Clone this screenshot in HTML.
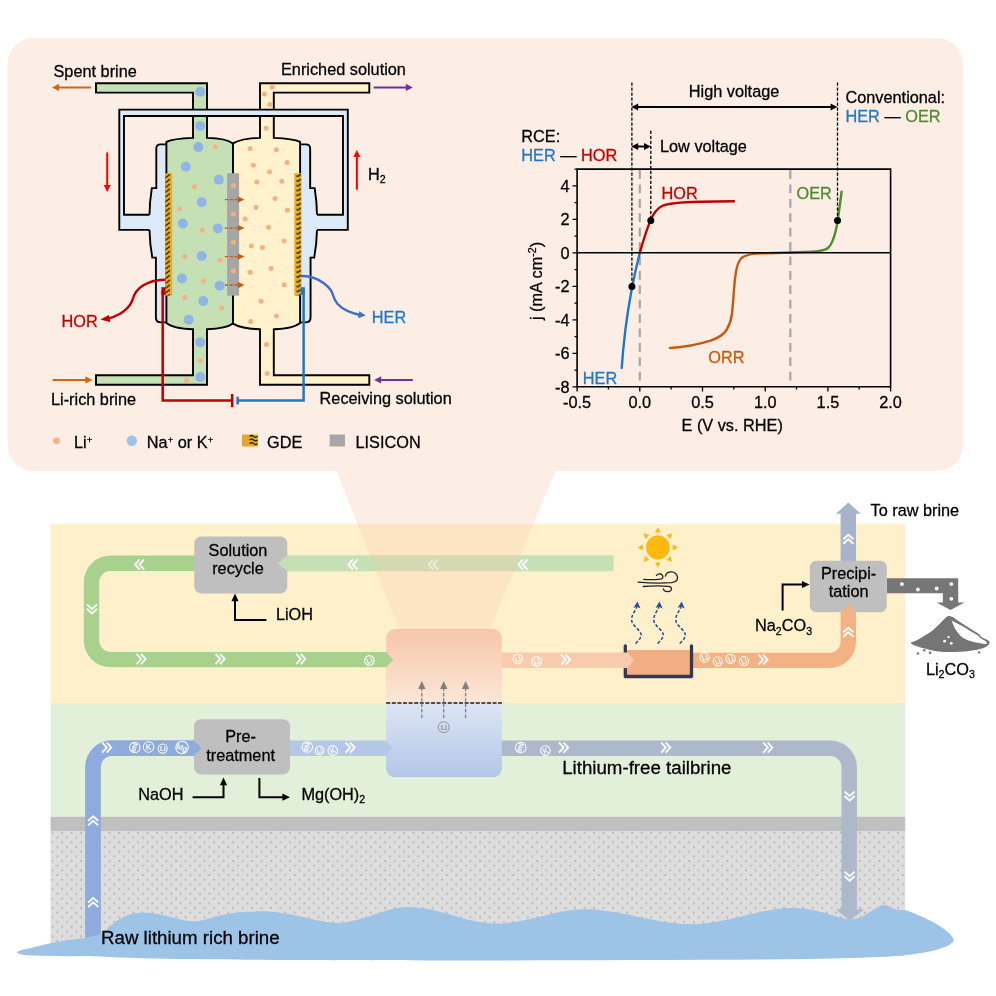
<!DOCTYPE html>
<html lang="en"><head><meta charset="utf-8"><title>Lithium extraction schematic</title>
<style>
html,body{margin:0;padding:0;background:#fff;}
body{width:996px;height:996px;overflow:hidden;}
svg{display:block;will-change:transform;}
text{font-family:"Liberation Sans",Arial,Helvetica,sans-serif;font-size:16.3px;fill:#000;stroke:#000;stroke-width:.28px;}
.lg{font-size:18.7px;}
.sub{font-size:10.6px;}
.sup{font-size:9.6px;}
.red{fill:#C00000;stroke:#C00000;} .blu{fill:#1F77C8;stroke:#1F77C8;} .grn{fill:#4E8A2E;stroke:#4E8A2E;} .orr{fill:#C55A11;stroke:#C55A11;}
.k{stroke:#000;stroke-width:1.9;fill:none;stroke-linejoin:miter;}
</style></head><body>
<svg width="996" height="996" viewBox="0 0 996 996">
<defs>
<pattern id="hatch" patternUnits="userSpaceOnUse" width="6.9" height="4.8" patternTransform="translate(165.2,173.2)">
<rect width="6.9" height="4.8" fill="#EBAF24"/>
<path d="M0.8,4.3 L4.4,1.5" stroke="#1a1a1a" stroke-width="1.35" stroke-linecap="round"/>
</pattern>
<pattern id="hatch2" patternUnits="userSpaceOnUse" width="6.9" height="4.8" patternTransform="translate(294.4,173.2)">
<rect width="6.9" height="4.8" fill="#EBAF24"/>
<path d="M2.5,2.8 L3.3,3.3 L6.2,1.3" stroke="#1a1a1a" stroke-width="1.25" stroke-linecap="round" stroke-linejoin="round" fill="none"/>
</pattern>
<pattern id="dots" patternUnits="userSpaceOnUse" width="9.5" height="9.4" patternTransform="translate(50.6,831)">
<rect width="9.5" height="9.4" fill="#DDDDDD"/>
<circle cx="2" cy="1.8" r="1" fill="#B4B4B4"/><circle cx="6.75" cy="6.5" r="1" fill="#B4B4B4"/>
</pattern>
<linearGradient id="gTop" x1="0" y1="0" x2="0" y2="1"><stop offset="0" stop-color="#F7C6A8"/><stop offset="1" stop-color="#FBE6D8"/></linearGradient>
<linearGradient id="gBot" x1="0" y1="0" x2="0" y2="1"><stop offset="0" stop-color="#DCE5F4"/><stop offset="1" stop-color="#B3C6E8"/></linearGradient>
<clipPath id="cellclip"><rect x="386.2" y="629" width="115.6" height="148.3" rx="9" ry="9"/></clipPath>
</defs>

<g id="bottom-bg">
<rect x="50.6" y="523.8" width="854.6" height="179.2" fill="#FFF0CC"/>
<rect x="50.6" y="703" width="854.6" height="114" fill="#E2EFD9"/>
<rect x="50.6" y="831" width="854.6" height="125" fill="url(#dots)"/>
<rect x="50.6" y="816.8" width="854.6" height="14.2" fill="#BFBFBF"/>
</g>
<g id="pipes" fill="none" stroke-width="15.4" stroke-linejoin="round">
<path d="M93,948 V767.2 A19,19 0 0 1 112,748.2 H194.5" stroke="#8FAADC" stroke-width="15.7"/>
<path d="M196,563.3 H110.5 A19,19 0 0 0 91.5,582.3 V640.6 A19,19 0 0 0 110.5,659.6 H386.5" stroke="#A9D18E"/>
<path d="M613.6,563.2 H286" stroke="#C5E0B4" stroke-width="16"/>
<path d="M289,748.2 H386.5" stroke="#B4C7E7"/>
<path d="M501,748.2 H830.2 A19,19 0 0 1 849.2,767.2 V910" stroke="#ADB9CA"/>
<path d="M501,660.2 H627" stroke="#F8CBAD"/>
<path d="M692,660.4 H829.3 A19,19 0 0 0 848.3,641.4 V611" stroke="#F4B183"/>
</g>
<path d="M835.6,909.3 H864.4 L850,920.4 Z" fill="#ADB9CA"/>
<path d="M840.6,562 V513.8 H835.8 L848.3,502.4 L860.8,513.8 H856 V562 Z" fill="#A6B3CB"/>
<path id="brine" fill="#9DC3E6" d="M17,952.2 C19,950.6 24,949.4 30,948.2 C37,946.6 44,944.6 51.2,943 C62,940.8 76,939.2 86.3,937.5 C92,936.6 96.6,935.6 100.4,934.1 C105.6,931.6 108.6,927.8 112.4,924.5 C116,921.2 120,918.4 124.5,916.5 C129.6,914 135,912.9 140.6,912.8 C147.6,912.7 154,913.2 160.6,914.5 C167.6,915.8 174,918.2 180.7,919.5 C185,920.6 189,921.3 193.2,921.4 C203,921.2 211,917.6 219.9,915.5 C226,914 231,913 237.7,912.5 C247,911.7 258,911 267.5,911.6 C277,912.2 287,913.8 296,915.5 C311,918.5 325,923.4 339.4,922.9 C363,922.1 384,907.4 407.8,907.1 C437,906.7 465,923 494,923.5 C513,923.8 530,919 547,915 C560,912 573,909 586.3,909.3 C622,910 656,924.4 691.3,924.2 C726,924 758,908.4 792,908 C806,907.8 818,911 830,914.5 C838,916.9 846,919.6 853.3,919 C862,918.3 868,913 874,909.5 C878,907 881,905 884,905 C888,905 892,908.6 896,909.6 C899,910.4 902,910 905,910 C925,917 950,929 954,940 C950,950 915,955.5 880,957 C840,958.8 800,959.2 760,959.6 C600,960.6 400,960.6 296,960 C250,959.7 215,959.5 178,959 C145,958.5 115,957.4 89,956 C62,956.4 38,956 30,955.6 C23,955.2 16.6,953.8 17,952.2 Z"/>
<polygon points="336.4,471 555.6,471 489.3,630 399.6,630" fill="#F8CBAD" fill-opacity="0.32"/>
<g clip-path="url(#cellclip)">
<rect x="386" y="629" width="116" height="74" fill="url(#gTop)"/>
<rect x="386" y="703" width="116" height="74.4" fill="url(#gBot)"/>
</g>
<line x1="386.2" y1="703" x2="501.8" y2="703" stroke="#1a1a1a" stroke-width="1.6" stroke-dasharray="4,1.6"/>
<line x1="421.8" y1="718" x2="421.8" y2="688" stroke="#7F7F7F" stroke-width="1.3" stroke-dasharray="3.6,1.8"/>
<path d="M421.8,681 l3.7,8 h-7.4 z" fill="#7F7F7F"/>
<line x1="443.7" y1="718" x2="443.7" y2="688" stroke="#7F7F7F" stroke-width="1.3" stroke-dasharray="3.6,1.8"/>
<path d="M443.7,681 l3.7,8 h-7.4 z" fill="#7F7F7F"/>
<line x1="465.6" y1="718" x2="465.6" y2="688" stroke="#7F7F7F" stroke-width="1.3" stroke-dasharray="3.6,1.8"/>
<path d="M465.6,681 l3.7,8 h-7.4 z" fill="#7F7F7F"/>
<g transform="translate(443.7,727.2)"><circle r="5.5" fill="none" stroke="#8C8C8C" stroke-width="0.90"/><text transform="rotate(0)" text-anchor="middle" y="2.8" style="font-size:7.8px;fill:#8C8C8C;stroke:#8C8C8C;stroke-width:.2px">Li</text></g>
<path d="M385.8,651.55 L393.2,659.6 L385.8,667.65 Z" fill="#A9D18E"/>
<path d="M385.8,740.4 L392.6,748.2 L385.8,756 Z" fill="#B4C7E7"/>
<path d="M626.5,652.4 L634,660.2 L626.5,668 Z" fill="#F8CBAD"/>
<rect x="194.3" y="536.4" width="93" height="57" rx="7" ry="7" fill="#BFBFBF"/>
<rect x="194" y="719.2" width="96" height="55.2" rx="7" ry="7" fill="#BFBFBF"/>
<rect x="809.8" y="560.8" width="77" height="51.4" rx="6.5" ry="6.5" fill="#BFBFBF"/>
<path d="M287.6,555.2 L277.6,563.2 L287.6,571.2 Z" fill="#C5E0B4"/>
<path d="M193.8,740.4 L201.6,748.2 L193.8,756 Z" fill="#8FAADC"/>
<path d="M840.5,611.9 L848.3,604.4 L856.1,611.9 Z" fill="#F4B183"/>
<rect x="626.8" y="650" width="63.4" height="25.6" fill="#F2AE82"/>
<path d="M625.3,646 V676.5 H691.5 V646" fill="none" stroke="#2A3B59" stroke-width="3.3" stroke-linejoin="round" stroke-linecap="round"/>
<path d="M620,652.4 H627.4 L634,660.2 L627.4,668 H620 Z" fill="#F8CBAD"/>
<g transform="translate(139.3,564.6) rotate(180) scale(1.00)" fill="none" stroke="#fff" stroke-width="1.85" opacity="1"><path d="M-4.8,-5.1 L-0.2,0 L-4.8,5.1 M-0.3,-5.1 L4.3,0 L-0.3,5.1"/></g>
<g transform="translate(92.0,609.2) rotate(90) scale(1.00)" fill="none" stroke="#fff" stroke-width="1.85" opacity="1"><path d="M-4.8,-5.1 L-0.2,0 L-4.8,5.1 M-0.3,-5.1 L4.3,0 L-0.3,5.1"/></g>
<g transform="translate(141.3,659.0) rotate(0) scale(1.00)" fill="none" stroke="#fff" stroke-width="1.85" opacity="1"><path d="M-4.8,-5.1 L-0.2,0 L-4.8,5.1 M-0.3,-5.1 L4.3,0 L-0.3,5.1"/></g>
<g transform="translate(220.4,659.0) rotate(0) scale(1.00)" fill="none" stroke="#fff" stroke-width="1.85" opacity="1"><path d="M-4.8,-5.1 L-0.2,0 L-4.8,5.1 M-0.3,-5.1 L4.3,0 L-0.3,5.1"/></g>
<g transform="translate(301.0,659.0) rotate(0) scale(1.00)" fill="none" stroke="#fff" stroke-width="1.85" opacity="1"><path d="M-4.8,-5.1 L-0.2,0 L-4.8,5.1 M-0.3,-5.1 L4.3,0 L-0.3,5.1"/></g>
<g transform="translate(352.6,564.6) rotate(180) scale(1.00)" fill="none" stroke="#fff" stroke-width="1.85" opacity="1"><path d="M-4.8,-5.1 L-0.2,0 L-4.8,5.1 M-0.3,-5.1 L4.3,0 L-0.3,5.1"/></g>
<g transform="translate(433.0,564.6) rotate(180) scale(1.00)" fill="none" stroke="#fff" stroke-width="1.85" opacity="0.55"><path d="M-4.8,-5.1 L-0.2,0 L-4.8,5.1 M-0.3,-5.1 L4.3,0 L-0.3,5.1"/></g>
<g transform="translate(522.6,564.6) rotate(180) scale(1.00)" fill="none" stroke="#fff" stroke-width="1.85" opacity="1"><path d="M-4.8,-5.1 L-0.2,0 L-4.8,5.1 M-0.3,-5.1 L4.3,0 L-0.3,5.1"/></g>
<g transform="translate(107.0,747.6) rotate(0) scale(1.00)" fill="none" stroke="#fff" stroke-width="1.85" opacity="1"><path d="M-4.8,-5.1 L-0.2,0 L-4.8,5.1 M-0.3,-5.1 L4.3,0 L-0.3,5.1"/></g>
<g transform="translate(350.4,747.6) rotate(0) scale(1.00)" fill="none" stroke="#fff" stroke-width="1.85" opacity="1"><path d="M-4.8,-5.1 L-0.2,0 L-4.8,5.1 M-0.3,-5.1 L4.3,0 L-0.3,5.1"/></g>
<g transform="translate(93.2,820.6) rotate(270) scale(1.00)" fill="none" stroke="#fff" stroke-width="1.85" opacity="1"><path d="M-4.8,-5.1 L-0.2,0 L-4.8,5.1 M-0.3,-5.1 L4.3,0 L-0.3,5.1"/></g>
<g transform="translate(93.2,902.2) rotate(270) scale(1.00)" fill="none" stroke="#fff" stroke-width="1.85" opacity="1"><path d="M-4.8,-5.1 L-0.2,0 L-4.8,5.1 M-0.3,-5.1 L4.3,0 L-0.3,5.1"/></g>
<g transform="translate(565.9,659.6) rotate(0) scale(1.00)" fill="none" stroke="#fff" stroke-width="1.85" opacity="1"><path d="M-4.8,-5.1 L-0.2,0 L-4.8,5.1 M-0.3,-5.1 L4.3,0 L-0.3,5.1"/></g>
<g transform="translate(763.3,659.6) rotate(0) scale(1.00)" fill="none" stroke="#fff" stroke-width="1.85" opacity="1"><path d="M-4.8,-5.1 L-0.2,0 L-4.8,5.1 M-0.3,-5.1 L4.3,0 L-0.3,5.1"/></g>
<g transform="translate(848.3,632.0) rotate(270) scale(1.00)" fill="none" stroke="#fff" stroke-width="1.85" opacity="1"><path d="M-4.8,-5.1 L-0.2,0 L-4.8,5.1 M-0.3,-5.1 L4.3,0 L-0.3,5.1"/></g>
<g transform="translate(848.3,539.0) rotate(270) scale(1.00)" fill="none" stroke="#fff" stroke-width="1.85" opacity="1"><path d="M-4.8,-5.1 L-0.2,0 L-4.8,5.1 M-0.3,-5.1 L4.3,0 L-0.3,5.1"/></g>
<g transform="translate(563.8,747.6) rotate(0) scale(1.00)" fill="none" stroke="#fff" stroke-width="1.85" opacity="1"><path d="M-4.8,-5.1 L-0.2,0 L-4.8,5.1 M-0.3,-5.1 L4.3,0 L-0.3,5.1"/></g>
<g transform="translate(666.0,747.6) rotate(0) scale(1.00)" fill="none" stroke="#fff" stroke-width="1.85" opacity="1"><path d="M-4.8,-5.1 L-0.2,0 L-4.8,5.1 M-0.3,-5.1 L4.3,0 L-0.3,5.1"/></g>
<g transform="translate(768.0,747.6) rotate(0) scale(1.00)" fill="none" stroke="#fff" stroke-width="1.85" opacity="1"><path d="M-4.8,-5.1 L-0.2,0 L-4.8,5.1 M-0.3,-5.1 L4.3,0 L-0.3,5.1"/></g>
<g transform="translate(849.6,796.3) rotate(90) scale(1.00)" fill="none" stroke="#fff" stroke-width="1.85" opacity="1"><path d="M-4.8,-5.1 L-0.2,0 L-4.8,5.1 M-0.3,-5.1 L4.3,0 L-0.3,5.1"/></g>
<g transform="translate(849.6,876.4) rotate(90) scale(1.00)" fill="none" stroke="#fff" stroke-width="1.85" opacity="1"><path d="M-4.8,-5.1 L-0.2,0 L-4.8,5.1 M-0.3,-5.1 L4.3,0 L-0.3,5.1"/></g>
<g transform="translate(134.8,747.5)"><circle r="5.3" fill="none" stroke="#fff" stroke-width="1.05"/><text transform="rotate(100)" text-anchor="middle" y="2.5" style="font-size:7.0px;fill:#fff;stroke:#fff;stroke-width:.2px">Na</text></g>
<g transform="translate(148.6,747.0)"><circle r="5.3" fill="none" stroke="#fff" stroke-width="1.05"/><text transform="rotate(0)" text-anchor="middle" y="3.0" style="font-size:8.4px;fill:#fff;stroke:#fff;stroke-width:.2px">K</text></g>
<g transform="translate(162.7,748.6)"><circle r="4.6" fill="none" stroke="#fff" stroke-width="1.05"/><text transform="rotate(0)" text-anchor="middle" y="2.6" style="font-size:7.1px;fill:#fff;stroke:#fff;stroke-width:.2px">Li</text></g>
<g transform="translate(182.0,747.5)"><circle r="6.2" fill="none" stroke="#fff" stroke-width="1.05"/><text transform="rotate(20)" text-anchor="middle" y="2.7" style="font-size:7.6px;fill:#fff;stroke:#fff;stroke-width:.2px">Mg</text></g>
<g transform="translate(369.4,660.4)"><circle r="4.8" fill="none" stroke="#fff" stroke-width="1.05"/><text transform="rotate(-20)" text-anchor="middle" y="2.7" style="font-size:7.4px;fill:#fff;stroke:#fff;stroke-width:.2px">Li</text></g>
<g transform="translate(307.3,747.0)"><circle r="5.3" fill="none" stroke="#fff" stroke-width="1.05"/><text transform="rotate(100)" text-anchor="middle" y="2.5" style="font-size:7.0px;fill:#fff;stroke:#fff;stroke-width:.2px">Na</text></g>
<g transform="translate(319.6,750.6)"><circle r="4.4" fill="none" stroke="#fff" stroke-width="1.05"/><text transform="rotate(-20)" text-anchor="middle" y="2.5" style="font-size:6.8px;fill:#fff;stroke:#fff;stroke-width:.2px">Li</text></g>
<g transform="translate(332.7,750.4)"><circle r="4.8" fill="none" stroke="#fff" stroke-width="1.05"/><text transform="rotate(-20)" text-anchor="middle" y="2.7" style="font-size:7.4px;fill:#fff;stroke:#fff;stroke-width:.2px">K</text></g>
<g transform="translate(517.7,659.0)"><circle r="4.8" fill="none" stroke="#fff" stroke-width="1.05"/><text transform="rotate(-20)" text-anchor="middle" y="2.7" style="font-size:7.4px;fill:#fff;stroke:#fff;stroke-width:.2px">Li</text></g>
<g transform="translate(536.6,661.6)"><circle r="4.8" fill="none" stroke="#fff" stroke-width="1.05"/><text transform="rotate(-20)" text-anchor="middle" y="2.7" style="font-size:7.4px;fill:#fff;stroke:#fff;stroke-width:.2px">Li</text></g>
<g transform="translate(704.5,657.4)"><circle r="4.6" fill="none" stroke="#fff" stroke-width="1.05"/><text transform="rotate(-20)" text-anchor="middle" y="2.6" style="font-size:7.1px;fill:#fff;stroke:#fff;stroke-width:.2px">Li</text></g>
<g transform="translate(717.8,661.4)"><circle r="4.6" fill="none" stroke="#fff" stroke-width="1.05"/><text transform="rotate(-20)" text-anchor="middle" y="2.6" style="font-size:7.1px;fill:#fff;stroke:#fff;stroke-width:.2px">Li</text></g>
<g transform="translate(730.6,658.8)"><circle r="4.6" fill="none" stroke="#fff" stroke-width="1.05"/><text transform="rotate(-20)" text-anchor="middle" y="2.6" style="font-size:7.1px;fill:#fff;stroke:#fff;stroke-width:.2px">Li</text></g>
<g transform="translate(744.0,661.0)"><circle r="4.6" fill="none" stroke="#fff" stroke-width="1.05"/><text transform="rotate(-20)" text-anchor="middle" y="2.6" style="font-size:7.1px;fill:#fff;stroke:#fff;stroke-width:.2px">Li</text></g>
<g transform="translate(520.7,747.5)"><circle r="5.3" fill="none" stroke="#fff" stroke-width="1.05"/><text transform="rotate(100)" text-anchor="middle" y="2.5" style="font-size:7.0px;fill:#fff;stroke:#fff;stroke-width:.2px">Na</text></g>
<g transform="translate(545.4,750.6)"><circle r="4.8" fill="none" stroke="#fff" stroke-width="1.05"/><text transform="rotate(-20)" text-anchor="middle" y="2.7" style="font-size:7.4px;fill:#fff;stroke:#fff;stroke-width:.2px">K</text></g>
<g fill="none" stroke="#000" stroke-width="2">
<path d="M266.4,620 H235 V600"/>
<path d="M192.6,797.2 H223.5 V784"/>
<path d="M259.4,778 V797.2 H284"/>
<path d="M782.6,610.4 V584.5 H803"/>
</g>
<path d="M235,593.6 l3.6,7.6 h-7.2 z"/>
<path d="M223.5,777.6 l3.6,7.6 h-7.2 z"/>
<path d="M290,797.2 l-7.6,3.6 v-7.2 z"/>
<path d="M809.6,584.5 l-7.6,3.6 v-7.2 z"/>
<text x="238" y="555.6" text-anchor="middle">Solution</text>
<text x="238" y="574.4" text-anchor="middle">recycle</text>
<text x="275.9" y="619.8">LiOH</text>
<text x="240.6" y="742.2" text-anchor="middle">Pre-</text>
<text x="240.6" y="761" text-anchor="middle">treatment</text>
<text x="138.2" y="799.8">NaOH</text>
<text x="301.4" y="799.8">Mg(OH)<tspan class="sub" dy="3.6">2</tspan><tspan dy="-3.6">&#8203;</tspan></text>
<text x="848.6" y="578.6" text-anchor="middle">Precipi-</text>
<text x="848.6" y="597.2" text-anchor="middle">tation</text>
<text x="755" y="631.2">Na<tspan class="sub" dy="3.6">2</tspan><tspan dy="-3.6">&#8203;</tspan>CO<tspan class="sub" dy="3.6">3</tspan><tspan dy="-3.6">&#8203;</tspan></text>
<text x="925.9" y="674.8">Li<tspan class="sub" dy="3.6">2</tspan><tspan dy="-3.6">&#8203;</tspan>CO<tspan class="sub" dy="3.6">3</tspan><tspan dy="-3.6">&#8203;</tspan></text>
<text x="870.5" y="516.2">To raw brine</text>
<text x="562.2" y="774.4" class="lg">Lithium-free tailbrine</text>
<text x="101" y="944.3" class="lg">Raw lithium rich brine</text>
<g fill="#FDB90F">
<circle cx="657.9" cy="547.5" r="11.9"/>
<polygon points="678.1,547.5 672.8,550.4 672.8,544.6"/>
<polygon points="672.2,561.8 666.4,560.1 670.5,556.0"/>
<polygon points="657.9,567.7 655.0,562.4 660.8,562.4"/>
<polygon points="643.6,561.8 645.3,556.0 649.4,560.1"/>
<polygon points="637.7,547.5 643.0,544.6 643.0,550.4"/>
<polygon points="643.6,533.2 649.4,534.9 645.3,539.0"/>
<polygon points="657.9,527.3 660.8,532.6 655.0,532.6"/>
<polygon points="672.2,533.2 670.5,539.0 666.4,534.9"/>
</g>
<g fill="none" stroke="#222" stroke-width="1.3" stroke-linecap="round">
<path d="M643.7,579.4 C650,579.8 655,579.6 658.6,579.4 C661.5,579.2 663,578.2 662.9,576.6 C662.8,574.8 661,573.6 659.3,573.8 C657.8,574 656.8,574.6 656.4,575.5"/>
<path d="M638.1,582.2 C650,583.2 662,583.4 671.4,582.7 C675.5,582.2 677.6,580.4 677.5,577.6 C677.4,574.2 674.6,571.8 671.3,571.9 C668,572 665.8,573.8 665.4,576.2"/>
<path d="M643.3,586.5 C652,585.8 661,585.8 668.2,586.3 C670.4,586.5 671.6,587.4 671.5,588.8 C671.4,590.6 669.6,591.7 667.4,591.6 C665.2,591.5 663.6,590.4 663.4,589"/>
</g>
<g fill="none" stroke="#2B4C9B" stroke-width="1.5" stroke-dasharray="3.2,1.9">
<path transform="translate(0,0)" d="M635.6,643.7 C639,640 641.4,637.6 641.1,634.6 C640.6,630 631.8,625.4 631.6,620.1 C631.4,615 635.4,610.6 636.9,607"/>
<path transform="translate(22.1,0)" d="M635.6,643.7 C639,640 641.4,637.6 641.1,634.6 C640.6,630 631.8,625.4 631.6,620.1 C631.4,615 635.4,610.6 636.9,607"/>
<path transform="translate(44.2,0)" d="M635.6,643.7 C639,640 641.4,637.6 641.1,634.6 C640.6,630 631.8,625.4 631.6,620.1 C631.4,615 635.4,610.6 636.9,607"/>
</g>
<path transform="translate(0,0)" d="M637.4,601.6 L640.6,608.6 L636.8,606.8 L633.4,608 Z" fill="#2B4C9B"/>
<path transform="translate(22.1,0)" d="M637.4,601.6 L640.6,608.6 L636.8,606.8 L633.4,608 Z" fill="#2B4C9B"/>
<path transform="translate(44.2,0)" d="M637.4,601.6 L640.6,608.6 L636.8,606.8 L633.4,608 Z" fill="#2B4C9B"/>
<path d="M887,578.2 H958.2 V602.5 H964.4 L950.5,610 L936.6,602.5 H942.9 V593.3 H887 Z" fill="#767676"/>
<circle cx="901.9" cy="584.1" r="1.9" fill="#fff"/>
<circle cx="917.9" cy="589.5" r="1.9" fill="#fff"/>
<circle cx="936.7" cy="588.5" r="1.9" fill="#fff"/>
<circle cx="951.3" cy="584.1" r="1.9" fill="#fff"/>
<circle cx="951.3" cy="598.8" r="1.9" fill="#fff"/>
<path d="M911.2,642.3 C915,641.4 918,639.8 920.8,638 C924.4,635.8 927,634.2 930.1,632.2 C933,630.2 935.6,627.6 938.2,625.2 C940.8,622.8 943,620.2 945.2,618.2 C946.8,616.6 947.8,616.1 949.3,616.1 C951,616.1 952.8,617.1 954.5,618.2 C957.6,620.3 960.6,622.5 963.9,624.6 C967,626.6 970,628.6 973.2,630.5 C975.2,631.7 977.4,632.8 979,634 C980.4,635 980.4,636.2 981.3,636.9 C983,638.2 985.6,638.7 987.2,639.8 C988.8,640.9 990,642 989.5,643.3 C989,645 987,646.4 984.8,647.4 C981.2,649 977.2,649.8 973.2,650.3 C967.4,651.2 961.6,651.9 955.7,652 C949.8,652.2 944,652 938.2,651.4 C934.2,651 930.4,650.1 926.6,649.1 C922.6,648.1 918.6,647 914.9,645.6 C913.2,645 910.2,643.6 911.2,642.3 Z" fill="#757575"/>
<path d="M951.6,620.6 C955.6,622.8 960,624.8 963.9,627 C967,628.9 970.2,630.9 973.2,632.8 C975,633.9 977,634.6 978.4,635.7 C979.6,636.7 979.8,637.6 980.7,638.3 C982.2,639.4 984,640 985.4,641 C986.6,641.9 987.2,643 986.6,643.9 C984,644 981.4,643.4 979,642.9 C975.4,642.2 971.8,641.6 968.5,640.4 C965.6,639.2 962.6,637.8 960.4,635.7 C958,633.4 956,630.6 954.5,627.6 C953.4,625.4 952.4,623 951.6,620.6 Z" fill="#fff"/>
<circle cx="948.5" cy="637.1" r="1.2" fill="#fff"/>
<circle cx="944.6" cy="641.2" r="1.4" fill="#fff"/>
<circle cx="951.3" cy="643.3" r="1.4" fill="#fff"/>
<circle cx="917.9" cy="653.5" r="1.2" fill="#757575"/>
<circle cx="924.3" cy="650.3" r="1.3" fill="#757575"/>
<circle cx="930.1" cy="652.8" r="1.4" fill="#757575"/>
<circle cx="979" cy="652.4" r="1.2" fill="#757575"/>
<rect x="7.5" y="38" width="955.5" height="433" rx="26" ry="26" fill="#FDEEE5"/>
<g id="device">
<g>
<path d="M170,144.4 H160.6 Q156.3,144.4 156.3,148.6 V188.1 H151.8 C150.4,197 149.6,206 149.5,214.8 V229.9 C149.7,239 150.6,248.6 152.3,257.6 H155.9 V317.4 Q155.9,322.4 160.9,322.4 H170 Z" fill="#DCE9F6"/>
<path d="M170,144.4 H160.6 Q156.3,144.4 156.3,148.6 V188.1 H151.8 C150.4,197 149.6,206 149.5,214.8" class="k"/><path d="M149.5,229.9 C149.7,239 150.6,248.6 152.3,257.6 H155.9 V317.4 Q155.9,322.4 160.9,322.4 H170" class="k"/>
</g>
<g transform="translate(233,0) scale(-1.006,1) translate(-233,0)">
<path d="M170,144.4 H160.6 Q156.3,144.4 156.3,148.6 V188.1 H151.8 C150.4,197 149.6,206 149.5,214.8 V229.9 C149.7,239 150.6,248.6 152.3,257.6 H155.9 V317.4 Q155.9,322.4 160.9,322.4 H170 Z" fill="#DCE9F6"/>
<path d="M170,144.4 H160.6 Q156.3,144.4 156.3,148.6 V188.1 H151.8 C150.4,197 149.6,206 149.5,214.8" class="k"/><path d="M149.5,229.9 C149.7,239 150.6,248.6 152.3,257.6 H155.9 V317.4 Q155.9,322.4 160.9,322.4 H170" class="k"/>
</g>
<path d="M96,83.3 H207 V137.9 C217,138.2 228,139.6 233,143.4 V323.6 C228,327.4 217,328.9 207,329.3 V384.7 H96 V375.3 H193 V329.3 C183,328.9 171,327 166.4,323 V141.8 C171,139.6 183,138.3 193,137.9 V92.6 H96 Z" fill="#C5E0B4" stroke="#000" stroke-width="1.9" stroke-linejoin="miter"/>
<path d="M369.3,83.3 H260 V137.9 C250,138.2 239,139.6 233,143.4 V323.6 C239,327.4 250,328.9 260,329.3 V384.7 H369.3 V375.3 H273.8 V329.3 C283,328.9 295.4,327 300.1,323 V141.8 C295.4,139.6 283,138.3 273.8,137.9 V92.6 H369.3 Z" fill="#FFF2CC" stroke="#000" stroke-width="1.9" stroke-linejoin="miter"/>
<rect x="165.2" y="173.2" width="6.9" height="122.4" fill="url(#hatch)"/>
<rect x="294.4" y="173.2" width="6.9" height="122.4" fill="url(#hatch2)"/>
<rect x="227.1" y="173.2" width="12" height="122.4" fill="#A6A6A6"/>
<g fill="#8FB5E6"><circle cx="200.2" cy="91.8" r="5"/><circle cx="200.2" cy="125.9" r="5"/><circle cx="198.3" cy="147.1" r="5"/><circle cx="185.8" cy="166.7" r="5"/><circle cx="218.8" cy="179.8" r="5"/><circle cx="201.7" cy="202.2" r="5"/><circle cx="182.8" cy="223.5" r="5"/><circle cx="217.9" cy="228.5" r="5"/><circle cx="201.7" cy="256" r="5"/><circle cx="181.9" cy="278.5" r="5"/><circle cx="219.6" cy="285.7" r="5"/><circle cx="203.2" cy="301" r="5"/><circle cx="188.6" cy="319.7" r="5"/><circle cx="200.2" cy="342.2" r="5"/><circle cx="200.2" cy="377" r="5"/></g>
<g fill="#F4B183"><circle cx="215.4" cy="146.7" r="2.5"/><circle cx="194.5" cy="186.7" r="2.5"/><circle cx="179.4" cy="208.7" r="2.5"/><circle cx="202.4" cy="230.2" r="2.5"/><circle cx="184.8" cy="256.6" r="2.5"/><circle cx="220.1" cy="260.2" r="2.5"/><circle cx="203.3" cy="281" r="2.5"/><circle cx="184.8" cy="297.2" r="2.5"/><circle cx="221.7" cy="308.1" r="2.5"/><circle cx="200.2" cy="360.7" r="2.5"/><circle cx="186.5" cy="380.5" r="2.5"/><circle cx="272.2" cy="87.3" r="2.5"/><circle cx="264.4" cy="94.1" r="2.5"/><circle cx="269.8" cy="104.4" r="2.5"/><circle cx="266.1" cy="128.3" r="2.5"/><circle cx="250.2" cy="148.4" r="2.5"/><circle cx="276.3" cy="149.8" r="2.5"/><circle cx="287.1" cy="162.4" r="2.5"/><circle cx="253.4" cy="165.3" r="2.5"/><circle cx="269.6" cy="171.8" r="2.5"/><circle cx="256.8" cy="182.1" r="2.5"/><circle cx="281.8" cy="181.2" r="2.5"/><circle cx="275.1" cy="198.6" r="2.5"/><circle cx="256" cy="207.3" r="2.5"/><circle cx="287.4" cy="210.2" r="2.5"/><circle cx="245.1" cy="218.9" r="2.5"/><circle cx="268.6" cy="227.3" r="2.5"/><circle cx="284.2" cy="240.9" r="2.5"/><circle cx="251.4" cy="246.1" r="2.5"/><circle cx="262.5" cy="247.4" r="2.5"/><circle cx="271.2" cy="268.4" r="2.5"/><circle cx="250.2" cy="272.2" r="2.5"/><circle cx="284.2" cy="284.8" r="2.5"/><circle cx="261" cy="301.3" r="2.5"/><circle cx="276.3" cy="316" r="2.5"/><circle cx="250.7" cy="321.4" r="2.5"/><circle cx="266.5" cy="344.6" r="2.5"/><circle cx="267.2" cy="373.6" r="2.5"/><circle cx="233.3" cy="185.5" r="2.5"/><circle cx="233.3" cy="214" r="2.5"/><circle cx="233.3" cy="242.3" r="2.5"/><circle cx="233.3" cy="270.8" r="2.5"/></g>
<line x1="224.8" y1="199.6" x2="238.6" y2="199.6" stroke="#C55A11" stroke-width="1.3" stroke-dasharray="3.2,1.6"/>
<path d="M244.4,199.6 l-6.6,3.2 v-6.4 z" fill="#C55A11"/>
<line x1="224.8" y1="228.1" x2="238.6" y2="228.1" stroke="#C55A11" stroke-width="1.3" stroke-dasharray="3.2,1.6"/>
<path d="M244.4,228.1 l-6.6,3.2 v-6.4 z" fill="#C55A11"/>
<line x1="224.8" y1="256.6" x2="238.6" y2="256.6" stroke="#C55A11" stroke-width="1.3" stroke-dasharray="3.2,1.6"/>
<path d="M244.4,256.6 l-6.6,3.2 v-6.4 z" fill="#C55A11"/>
<line x1="224.8" y1="285" x2="238.6" y2="285" stroke="#C55A11" stroke-width="1.3" stroke-dasharray="3.2,1.6"/>
<path d="M244.4,285 l-6.6,3.2 v-6.4 z" fill="#C55A11"/>
<path d="M150.4,229.9 H119.3 V109.6 H347.8 V229.9 H316.2 V214.8 H343 V116 H124 V214.8 H150.4 Z" fill="#DCE9F6"/>
<path d="M149.5,229.9 H119.3 V109.6 H347.8 V229.9 H317 M149.5,214.8 H124 V116 H343 V214.8 H317" class="k"/>
<rect x="161.4" y="287.2" width="4.1" height="7.8" fill="#C00000"/>
<path d="M162.7,291 V400.6 H232.2 M232.2,394 V407.2" fill="none" stroke="#C00000" stroke-width="2.5"/>
<rect x="300.8" y="287.2" width="4.1" height="7.8" fill="#1F77C8"/>
<path d="M303.6,291 V400.6 H237.6 M237.6,396.8 V404.4" fill="none" stroke="#1F77C8" stroke-width="2.5"/>
<path d="M165.4,279.8 C159,279.8 154,280.6 149,282.6 C143,285 138.6,288.2 136,292 C133.4,295.8 133,299 131.6,302 C129.6,306.4 126,310 120.6,313.4 C116,316.2 111,317.8 106.4,318.8" fill="none" stroke="#C00000" stroke-width="2.4"/>
<path d="M100.4,319.6 l8.4,-4.6 l1.6,7.2 z" fill="#C00000"/>
<path d="M301.1,275.9 C308,275.8 314,277.4 319,280.2 C326,284.2 331,288.6 332.6,294 C333.8,298.2 335,301 337.6,304 C341,307.8 344.6,309.8 348.4,311.4 C352.4,313 356,314.2 360,314.9" fill="none" stroke="#3F6FC6" stroke-width="2.5"/>
<path d="M365.8,315.6 l-7.8,2.6 l1.3,-7 z" fill="#3F6FC6"/>
<line x1="91" y1="87.4" x2="57.6" y2="87.4" stroke="#D06515" stroke-width="2"/>
<path d="M52,87.4 l7,3.6 v-7.2 z" fill="#D06515"/>
<line x1="373.6" y1="87.4" x2="407.2" y2="87.4" stroke="#7030A0" stroke-width="2"/>
<path d="M412.8,87.4 l-7,3.6 v-7.2 z" fill="#7030A0"/>
<line x1="52.7" y1="379.9" x2="86.80000000000001" y2="379.9" stroke="#D06515" stroke-width="2"/>
<path d="M92.4,379.9 l-7,3.6 v-7.2 z" fill="#D06515"/>
<line x1="412.8" y1="379.9" x2="379.8" y2="379.9" stroke="#7030A0" stroke-width="2"/>
<path d="M374.2,379.9 l7,3.6 v-7.2 z" fill="#7030A0"/>
<line x1="107.2" y1="152.5" x2="107.2" y2="186.4" stroke="#FF0000" stroke-width="2"/>
<path d="M107.2,192 l3.5,-7 h-7.0 z" fill="#FF0000"/>
<line x1="356.9" y1="189.7" x2="356.9" y2="155.5" stroke="#FF0000" stroke-width="2"/>
<path d="M356.9,149.9 l3.5,7 h-7.0 z" fill="#FF0000"/>
</g>
<text x="53.5" y="76.5">Spent brine</text>
<text x="281" y="75.2">Enriched solution</text>
<text x="368" y="179.8">H<tspan class="sub" dy="3.6">2</tspan><tspan dy="-3.6">&#8203;</tspan></text>
<text x="61.5" y="326.6" class="red">HOR</text>
<text x="371.8" y="322.8" class="blu">HER</text>
<text x="51" y="405">Li-rich brine</text>
<text x="319.6" y="403.6">Receiving solution</text>
<circle cx="56.5" cy="440.8" r="3.4" fill="#F4B183"/>
<text x="74" y="448.3">Li<tspan class="sup" dy="-5.4">+</tspan></text>
<circle cx="131.8" cy="440.8" r="5.2" fill="#9DC3E6"/>
<text x="146.8" y="448.3">Na<tspan class="sup" dy="-5.4">+</tspan><tspan dy="5.4"> or K</tspan><tspan class="sup" dy="-5.4">+</tspan></text>
<rect x="242" y="434.5" width="16" height="12" fill="#E0A92B"/>
<path d="M249.6,436.4 q2,-1.8 4,0 t4,0 M249.6,440 q2,-1.8 4,0 t4,0 M249.6,443.6 q2,-1.8 4,0 t4,0" fill="none" stroke="#1a1a1a" stroke-width="1.2"/>
<text x="267" y="448.3">GDE</text>
<rect x="329.6" y="434.5" width="15.4" height="12" fill="#A6A6A6"/>
<text x="355.5" y="448.3">LISICON</text>
<g id="chart">
<line x1="639.8" y1="170.1" x2="639.8" y2="386.8" stroke="#A6A6A6" stroke-width="2.2" stroke-dasharray="8.8,5.6"/>
<line x1="790.3" y1="170.1" x2="790.3" y2="386.8" stroke="#A6A6A6" stroke-width="2.2" stroke-dasharray="8.8,5.6"/>
<g fill="none" stroke-width="2.4" stroke-linecap="round">
<path d="M621.7,368 C624,335 629,295 639.8,252.8" stroke="#1F77C8"/>
<path d="M639.8,252.8 C644,238 647,229 650.4,220.6 C654,212 657,208.5 662,206 C668,203.2 680,202.2 700,201.8 L734,201.3" stroke="#C00000"/>
<path d="M670,348 C685,347 700,344 710.5,340.6 C720,337.5 724,334 726.5,330 C730,324 731.5,318 732,314 C733.5,300 734,285 735.5,275 C736.5,267 738,261.5 741.5,258 C745,255 749,254.2 756,253.6 L790,252.5" stroke="#C55A11"/>
<path d="M790,252.5 L812,251.6 C820,251.2 825,250.4 828,248 C832,244.6 834,238 835.8,230.5 C837,225 837.6,222 838,218 C839.5,208 840.5,200 841.6,191.6" stroke="#4E8A2E"/>
</g>
<path d="M577.1,169.1 H890.6 V386.8 H577.1 Z M577.1,252.8 H890.6" fill="none" stroke="#000" stroke-width="1.6"/>
<path d="M577.1,386.8 h-4.6 M577.1,370.1 h-2.6 M577.1,353.3 h-4.6 M577.1,336.6 h-2.6 M577.1,319.8 h-4.6 M577.1,303.1 h-2.6 M577.1,286.3 h-4.6 M577.1,269.6 h-2.6 M577.1,252.8 h-4.6 M577.1,236.1 h-2.6 M577.1,219.3 h-4.6 M577.1,202.6 h-2.6 M577.1,185.8 h-4.6 M577.1,169.1 h-2.6 M577.1,386.8 v4.6 M608.4,386.8 v2.6 M639.8,386.8 v4.6 M671.1,386.8 v2.6 M702.5,386.8 v4.6 M733.8,386.8 v2.6 M765.2,386.8 v4.6 M796.5,386.8 v2.6 M827.9,386.8 v4.6 M859.2,386.8 v2.6 M890.6,386.8 v4.6" fill="none" stroke="#000" stroke-width="1.3"/>
<text x="569.6" y="191.6" text-anchor="end">4</text>
<text x="569.6" y="225.1" text-anchor="end">2</text>
<text x="569.6" y="258.6" text-anchor="end">0</text>
<text x="569.6" y="292.1" text-anchor="end">-2</text>
<text x="569.6" y="325.6" text-anchor="end">-4</text>
<text x="569.6" y="359.1" text-anchor="end">-6</text>
<text x="569.6" y="392.6" text-anchor="end">-8</text>
<text x="577.1" y="408.2" text-anchor="middle">-0.5</text>
<text x="639.8" y="408.2" text-anchor="middle">0.0</text>
<text x="702.5" y="408.2" text-anchor="middle">0.5</text>
<text x="765.2" y="408.2" text-anchor="middle">1.0</text>
<text x="827.9" y="408.2" text-anchor="middle">1.5</text>
<text x="890.6" y="408.2" text-anchor="middle">2.0</text>
<text x="732.2" y="431.4" text-anchor="middle">E (V vs. RHE)</text>
<text transform="translate(541.6,281) rotate(-90)" text-anchor="middle">j (mA cm<tspan class="sub" dy="-6">-2</tspan><tspan dy="6">)</tspan></text>
<line x1="631.9" y1="82.6" x2="631.9" y2="286.4" stroke="#000" stroke-width="1.3" stroke-dasharray="3.2,1.8"/>
<line x1="650.8" y1="130.8" x2="650.8" y2="220.6" stroke="#000" stroke-width="1.3" stroke-dasharray="3.2,1.8"/>
<line x1="837.5" y1="82.6" x2="837.5" y2="220.6" stroke="#000" stroke-width="1.3" stroke-dasharray="3.2,1.8"/>
<circle cx="631.9" cy="286.4" r="3.5"/>
<circle cx="650.8" cy="220.6" r="3.5"/>
<circle cx="837.5" cy="220.6" r="3.5"/>
<line x1="636.84" y1="107" x2="831.9599999999999" y2="107" stroke="#000" stroke-width="1.9"/>
<path d="M631.4,107 l6.8,3.4 v-6.8 z M837.4,107 l-6.8,3.4 v-6.8 z"/>
<line x1="636.84" y1="146.5" x2="645.3599999999999" y2="146.5" stroke="#000" stroke-width="1.9"/>
<path d="M631.4,146.5 l6.8,3.4 v-6.8 z M650.8,146.5 l-6.8,3.4 v-6.8 z"/>
<text x="688.8" y="96.8">High voltage</text>
<text x="660" y="151.6">Low voltage</text>
<text x="521.3" y="141.6">RCE:</text>
<text x="521.3" y="160.8"><tspan class="blu">HER</tspan> &#8212; <tspan class="red">HOR</tspan></text>
<text x="845.5" y="102.7">Conventional:</text>
<text x="845.5" y="122.3"><tspan class="blu">HER</tspan> &#8212; <tspan class="grn">OER</tspan></text>
<text x="661.6" y="198.6" class="red">HOR</text>
<text x="796.5" y="198.6" class="grn">OER</text>
<text x="582.8" y="384.3" class="blu">HER</text>
<text x="708.3" y="363" class="orr">ORR</text>
</g>
</svg></body></html>
